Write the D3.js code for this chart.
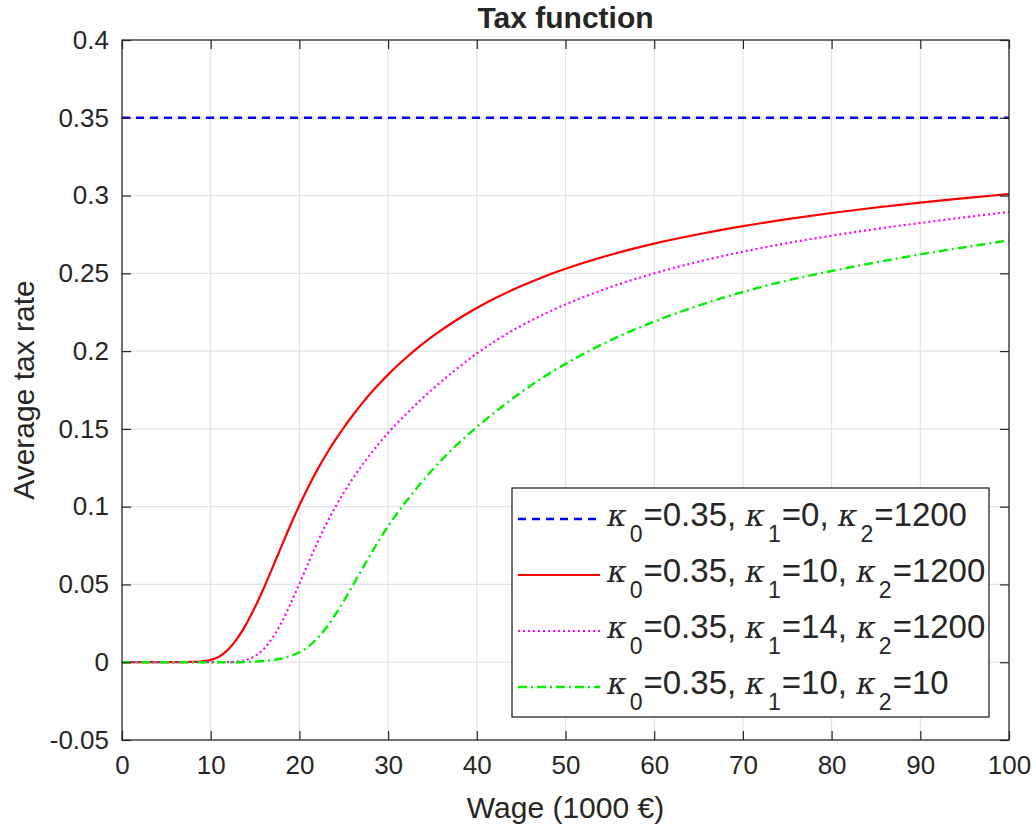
<!DOCTYPE html>
<html>
<head>
<meta charset="utf-8">
<script src="https://cdn.jsdelivr.net/npm/d3@7"></script>
<style>
  html, body { margin: 0; padding: 0; background: #ffffff; }
  svg { display: block; }
  text { font-family: "Liberation Sans", Arial, Helvetica, sans-serif; fill: #262626; }
</style>
</head>
<body>
<svg id="chart" width="1036" height="828"></svg>
<script>
// Wage grid (thousand €) shared by the curved series
const wage = [0, 5, 8, 9, 10, 11, 12, 13, 14, 15, 16, 17, 18, 19, 20, 21, 22, 23, 24, 25, 26, 27, 28, 29, 30,
  31, 32, 33, 35, 37.5, 40, 42.5, 45, 47.5, 50, 55, 60, 65, 70, 75, 80, 85, 90, 95, 100];

// Average tax rate, kappa0 = 0.35, kappa1 = 0, kappa2 = 1200 (flat)
const flatWage = [0, 100];
const rateK1_0 = [0.35, 0.35];

// Average tax rate, kappa1 = 10, kappa2 = 1200
const rateK1_10 = [0, 0, 0.0002, 0.0006, 0.0015, 0.0037, 0.0083, 0.0153, 0.0245, 0.0355, 0.0479, 0.0612, 0.0748, 0.0882, 0.1009,
  0.1127, 0.1235, 0.1334, 0.1424, 0.1508, 0.1586, 0.1659, 0.1727, 0.179, 0.1849,
  0.1904, 0.1956, 0.2005, 0.2094, 0.2192, 0.2277, 0.2352, 0.2418, 0.2477, 0.2529, 0.2618, 0.2691, 0.2751, 0.2803,
  0.2848, 0.2888, 0.2923, 0.2955, 0.2984, 0.301];

// Average tax rate, kappa1 = 14, kappa2 = 1200
const rateK1_14 = [0, 0, 0, 0, 0, 0, 0, 0.0004, 0.0015, 0.004, 0.0086, 0.0159, 0.0257, 0.0375, 0.0505,
  0.0638, 0.0766, 0.0885, 0.0993, 0.109, 0.1179, 0.1261, 0.1337, 0.1408, 0.1474,
  0.1536, 0.1594, 0.1649, 0.1755, 0.1875, 0.1985, 0.208, 0.2163, 0.2235, 0.23, 0.241, 0.25, 0.2575, 0.2639,
  0.2694, 0.2742, 0.2785, 0.2824, 0.286, 0.2895];

// Average tax rate, kappa1 = 10, kappa2 = 10
const rateK2_10 = [0, 0, 0, 0, 0, 0, 0, 0, 0.0002, 0.0004, 0.0008, 0.0014, 0.0024, 0.004, 0.0064,
  0.01, 0.0152, 0.022, 0.0302, 0.0394, 0.0492, 0.0592, 0.0691, 0.0786, 0.0875,
  0.0955, 0.1031, 0.1103, 0.1237, 0.1384, 0.1512, 0.1628, 0.1735, 0.1832, 0.1918, 0.2068, 0.219, 0.2293, 0.238,
  0.2454, 0.2515, 0.257, 0.2622, 0.2668, 0.2712];

// Axis ticks
const xTicks = [0, 10, 20, 30, 40, 50, 60, 70, 80, 90, 100];
const yTicks = [-0.05, 0, 0.05, 0.1, 0.15, 0.2, 0.25, 0.3, 0.35, 0.4];

// Legend entries: [kappa0, kappa1, kappa2]
const legendParams = [["0.35", "0", "1200"], ["0.35", "10", "1200"], ["0.35", "14", "1200"], ["0.35", "10", "10"]];

const seriesStyles = [
  { color: "#0000ff", dash: "8,6", width: 2.4 },
  { color: "#ff0000", dash: null, width: 2.2 },
  { color: "#ff00ff", dash: "2,3", width: 2.2 },
  { color: "#00f000", dash: "9,4,2,4", width: 2.4 }
];

const series = [
  { xs: flatWage, ys: rateK1_0 },
  { xs: wage, ys: rateK1_10 },
  { xs: wage, ys: rateK1_14 },
  { xs: wage, ys: rateK2_10 }
];

const margin = { left: 122, right: 1009, top: 40, bottom: 740 };
const svg = d3.select("#chart");

const x = d3.scaleLinear().domain([0, 100]).range([margin.left, margin.right]);
const y = d3.scaleLinear().domain([-0.05, 0.4]).range([margin.bottom, margin.top]);

const axisColor = "#262626";
const gridColor = "#e3e3e3";
const tickLen = 9;

// Grid
const grid = svg.append("g");
grid.selectAll("line.gx").data(xTicks.slice(1, -1)).join("line")
  .attr("x1", d => x(d)).attr("x2", d => x(d))
  .attr("y1", margin.top).attr("y2", margin.bottom)
  .attr("stroke", gridColor).attr("stroke-width", 1.2);
grid.selectAll("line.gy").data(yTicks.slice(1, -1)).join("line")
  .attr("y1", d => y(d)).attr("y2", d => y(d))
  .attr("x1", margin.left).attr("x2", margin.right)
  .attr("stroke", gridColor).attr("stroke-width", 1.2);

// Curves
const plot = svg.append("g");
series.forEach((s, i) => {
  const pts = s.xs.map((w, k) => [w, s.ys[k]]);
  const line = d3.line().x(d => x(d[0])).y(d => y(d[1])).curve(d3.curveMonotoneX);
  const st = seriesStyles[i];
  plot.append("path").datum(pts)
    .attr("d", line)
    .attr("fill", "none")
    .attr("stroke", st.color)
    .attr("stroke-width", st.width)
    .attr("stroke-dasharray", st.dash)
    .attr("stroke-linejoin", "round");
});

// Axes (box with ticks on all four sides, pointing inward)
const fontSize = 26;
const xAxisB = d3.axisBottom(x).tickValues(xTicks).tickSizeInner(-tickLen).tickSizeOuter(0).tickPadding(16)
  .tickFormat(d3.format("d"));
const xAxisT = d3.axisTop(x).tickValues(xTicks).tickSizeInner(-tickLen).tickSizeOuter(0).tickFormat("");
const yAxisL = d3.axisLeft(y).tickValues(yTicks).tickSizeInner(-tickLen).tickSizeOuter(0).tickPadding(13)
  .tickFormat(d => d === 0 ? "0" : String(+d.toFixed(2)));
const yAxisR = d3.axisRight(y).tickValues(yTicks).tickSizeInner(-tickLen).tickSizeOuter(0).tickFormat("");

function styleAxis(g) {
  g.select(".domain").remove();
  g.selectAll(".tick line").attr("stroke", axisColor).attr("stroke-width", 1.2);
  g.selectAll(".tick text").attr("fill", axisColor)
    .style("font-family", '"Liberation Sans", Arial, sans-serif').style("font-size", fontSize + "px");
}

svg.append("g").attr("transform", `translate(0,${margin.bottom})`).call(xAxisB).call(styleAxis);
svg.append("g").attr("transform", `translate(0,${margin.top})`).call(xAxisT).call(styleAxis);
svg.append("g").attr("transform", `translate(${margin.left},0)`).call(yAxisL).call(styleAxis);
svg.append("g").attr("transform", `translate(${margin.right},0)`).call(yAxisR).call(styleAxis);

// Frame
svg.append("rect")
  .attr("x", margin.left).attr("y", margin.top)
  .attr("width", margin.right - margin.left).attr("height", margin.bottom - margin.top)
  .attr("fill", "none").attr("stroke", axisColor).attr("stroke-width", 1.3);

// Title and axis labels
svg.append("text").attr("x", (margin.left + margin.right) / 2).attr("y", 28)
  .attr("text-anchor", "middle").style("font-size", "30px").style("font-weight", "bold")
  .attr("fill", "#000").text("Tax function");

svg.append("text").attr("x", (margin.left + margin.right) / 2).attr("y", 818)
  .attr("text-anchor", "middle").style("font-size", "30px").text("Wage (1000 €)");

svg.append("text")
  .attr("transform", `translate(34,${(margin.top + margin.bottom) / 2}) rotate(-90)`)
  .attr("text-anchor", "middle").style("font-size", "30px").text("Average tax rate");

// Legend
const lg = svg.append("g");
const lgBox = { x: 512, y: 488, w: 477, h: 229 };
lg.append("rect").attr("x", lgBox.x).attr("y", lgBox.y).attr("width", lgBox.w).attr("height", lgBox.h)
  .attr("fill", "#ffffff").attr("stroke", axisColor).attr("stroke-width", 1.3);

const rowY = d3.scaleLinear().domain([0, 3]).range([519, 687]);
legendParams.forEach((p, i) => {
  const cy = rowY(i);
  const st = seriesStyles[i];
  lg.append("line").attr("x1", 518).attr("x2", 600).attr("y1", cy).attr("y2", cy)
    .attr("stroke", st.color).attr("stroke-width", st.width).attr("stroke-dasharray", st.dash);

  const t = lg.append("text").attr("x", 607).attr("y", cy + 7).style("font-size", "33px").attr("fill", "#000");
  const parts = [["κ", "0", "=" + p[0] + ", "], ["κ", "1", "=" + p[1] + ", "], ["κ", "2", "=" + p[2]]];
  parts.forEach(([sym, sub, rest]) => {
    t.append("tspan").text(sym).style("font-family", '"DejaVu Serif", "Liberation Serif", serif')
      .style("font-style", "italic").style("font-size", "30px");
    t.append("tspan").text(sub).attr("dx", 3).attr("dy", 16).style("font-size", "23px");
    t.append("tspan").text(rest).attr("dx", 1).attr("dy", -16);
  });
});
</script>
</body>
</html>
